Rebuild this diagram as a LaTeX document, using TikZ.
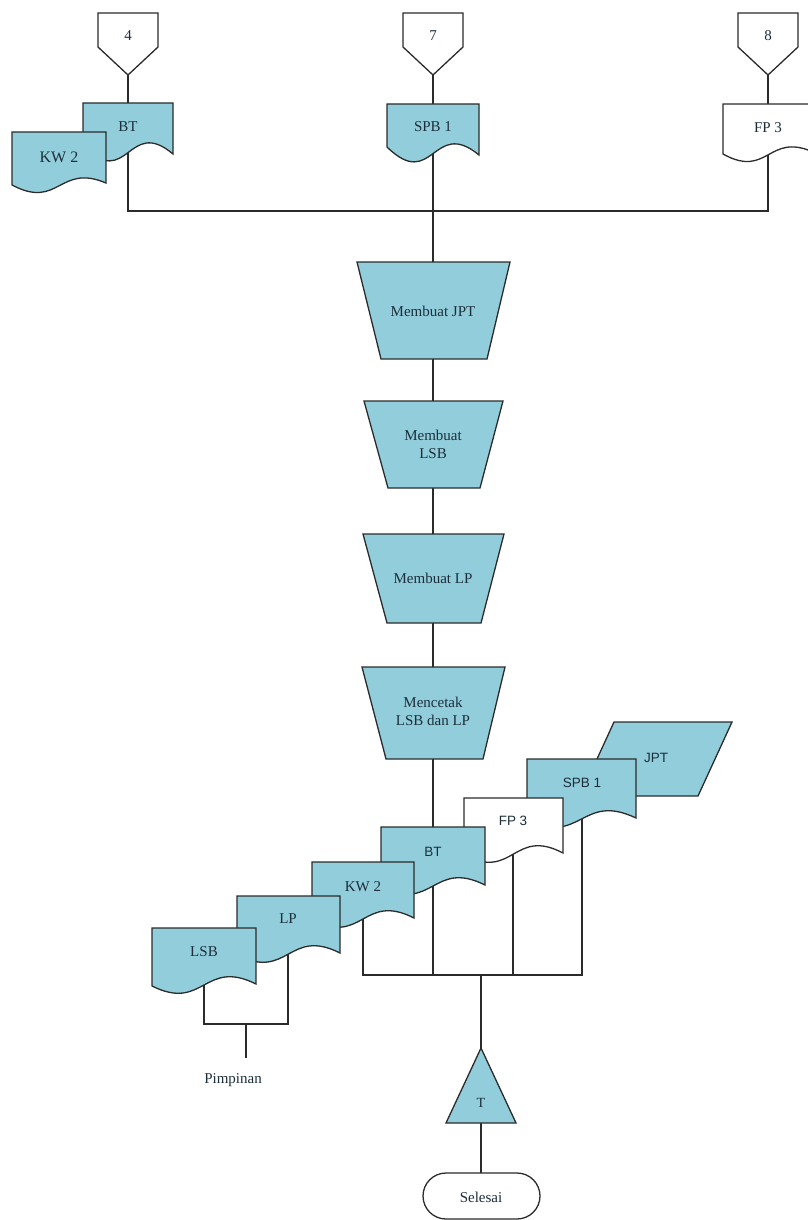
\documentclass[tikz,border=0pt]{standalone}
\usepackage{fontspec}
\setmainfont{Liberation Serif}
\newfontfamily\arialfont{Liberation Sans}
\pgfdeclarelayer{bg}
\pgfsetlayers{bg,main}
\definecolor{docblue}{HTML}{92CDDC}
\definecolor{edge}{HTML}{2B2B2B}
\definecolor{ink}{HTML}{1C2E3A}

\tikzset{
  shapeline/.style={draw=edge, line width=1.3pt, line join=miter},
  bluefill/.style={shapeline, fill=docblue},
  whitefill/.style={shapeline, fill=white},
  wire/.style={draw=edge, line width=1.2pt},
  serif/.style={text=ink, font=\fontsize{15}{18}\selectfont, align=center, inner sep=0pt},
  sans/.style={text=ink, font=\arialfont\fontsize{13.5}{16}\selectfont, align=center, inner sep=0pt},
}

% document symbol: style, left x, right x, top y, left corner y, wave c1, wave c2, right offset
\newcommand\wavedoc[8]{%
  \path[#1] (#2,#4) -- (#3,#4) -- ({#3},{#5+(#8)})
    .. controls ({(#2+#3)/2},{#5+(#7)}) and ({(#2+#3)/2},{#5+(#6)}) .. (#2,#5) -- cycle;}

% off-page connector (pentagon pointing down)
\newcommand\offpage[2]{%
  \path[whitefill] (#1,13) -- (#2,13) -- (#2,47) -- ({(#1+#2)/2},75) -- (#1,47) -- cycle;}

\begin{document}
\begin{tikzpicture}[x=1pt, y=-1pt]
\useasboundingbox (0,0) rectangle (807,1220);

% ---------- inputs ----------
\offpage{98}{158}
\node[serif] (c4) at (128,36) {4};
\offpage{403}{463}
\node[serif] (c7) at (433,36) {7};
\offpage{738}{798}
\node[serif] (c8) at (768,36) {8};

\wavedoc{bluefill}{83}{173}{103}{146}{45}{-30}{8}
\node[serif] (tbt) at (128,127) {BT};
\wavedoc{bluefill}{12}{106}{132}{185}{25}{-22}{-2}
\node[serif, font=\fontsize{16}{19}\selectfont] (tkw) at (59,157) {KW 2};
\wavedoc{bluefill}{387}{479}{104}{147}{45}{-30}{8}
\node[serif] (tspb) at (433,127) {SPB 1};
\wavedoc{whitefill}{723}{813}{104}{154}{25}{-22}{-2}
\node[serif] (tfp) at (768,128) {FP 3};

\coordinate (jtop) at (433,211);

% ---------- manual operations ----------
\path[bluefill] (357,262) -- (510,262) -- (487,359) -- (381,359) -- cycle;
\node[serif] (mjpt) at (433,311) {Membuat JPT};
\path[bluefill] (364,401) -- (503,401) -- (480,488) -- (388,488) -- cycle;
\node[serif] (mlsb) at (433,444) {Membuat\\LSB};
\path[bluefill] (363,534) -- (504,534) -- (481,623) -- (387,623) -- cycle;
\node[serif] (mlp) at (433,578) {Membuat LP};
\path[bluefill] (362,667) -- (505,667) -- (483,759) -- (386,759) -- cycle;
\node[serif] (mcetak) at (433,711) {Mencetak\\LSB dan LP};

% ---------- output stack ----------
\path[bluefill] (614,722) -- (732,722) -- (698,796) -- (580,796) -- cycle;
\node[sans] (bjpt) at (656,758) {JPT};
\wavedoc{bluefill}{527}{636}{759}{820}{26}{-28}{-2}
\node[sans] (bspb) at (582,783) {SPB 1};
\wavedoc{whitefill}{464}{563}{798}{855}{26}{-28}{-2}
\node[sans] (bfp) at (513,821) {FP 3};
\wavedoc{bluefill}{381}{485}{827}{887}{26}{-28}{-2}
\node[sans] (bbt) at (433,852) {BT};
\wavedoc{bluefill}{312}{414}{862}{920}{26}{-28}{-2}
\node[serif] (bkw) at (363,887) {KW 2};
\wavedoc{bluefill}{237}{340}{896}{955}{26}{-28}{-2}
\node[serif] (blp) at (288,919) {LP};
\wavedoc{bluefill}{152}{256}{928}{986}{26}{-28}{-2}
\node[serif] (blsb) at (204,952) {LSB};

\coordinate (jbot) at (481,975);
\coordinate (jp) at (246,1024);
\coordinate (pend) at (246,1058);
\node[serif] (pimp) at (233,1080) {Pimpinan};

% ---------- end ----------
\path[bluefill] (481,1048) -- (516,1123) -- (446,1123) -- cycle;
\node[serif, font=\fontsize{14}{16}\selectfont] (tri) at (481,1103) {T};
\path[whitefill, rounded corners=23pt] (423,1173) rectangle (540,1219);
\node[serif] (sel) at (481,1197) {Selesai};

% ---------- connectors ----------
\begin{pgfonlayer}{bg}
  \draw[wire] (c4) -- (tbt);
  \draw[wire] (c7) -- (tspb);
  \draw[wire] (c8) -- (tfp);
  \draw[wire] (tbt) |- (jtop) -| (tfp);
  \draw[wire] (tspb) -- (mjpt) -- (mlsb) -- (mlp) -- (mcetak) -- (bbt);
  \draw[wire] (bkw) |- (bspb |- jbot) -- (bspb);
  \draw[wire] (bbt) -- (bbt |- jbot);
  \draw[wire] (bfp) -- (bfp |- jbot);
  \draw[wire] (jbot) -- (tri) -- (sel);
  \draw[wire] (blsb) |- (blp |- jp) -- (blp);
  \draw[wire] (jp) -- (pend);
\end{pgfonlayer}
\end{tikzpicture}
\end{document}
